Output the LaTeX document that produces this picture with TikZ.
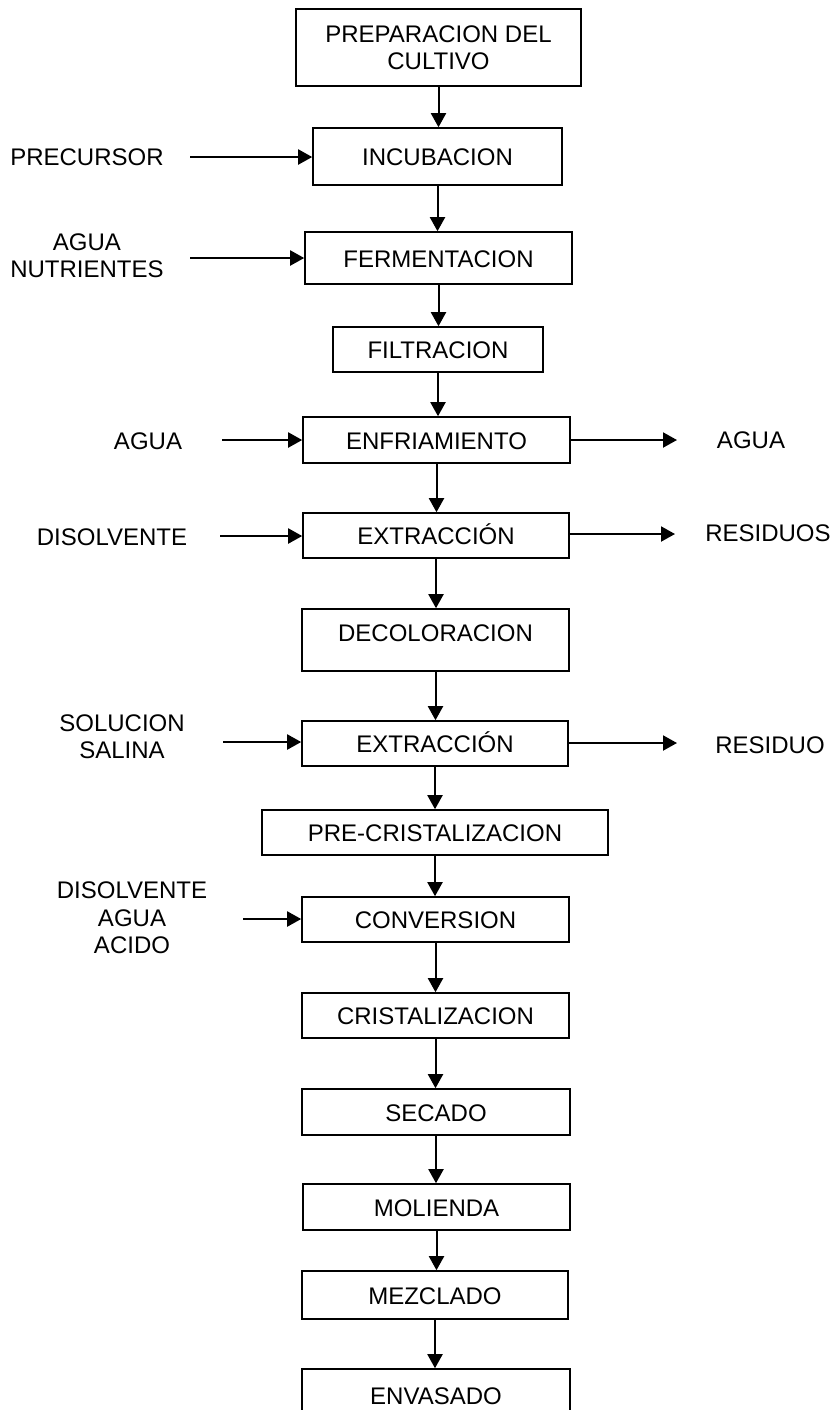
\documentclass[tikz,border=0pt]{standalone}
\usepackage{fontspec}
\setmainfont{Liberation Sans}
\usetikzlibrary{arrows.meta}
\begin{document}
\begin{tikzpicture}[x=0.5pt,y=-0.5pt,
  every node/.style={font=\fontsize{12}{13.75}\selectfont, inner sep=0pt, align=center},
  bx/.style 2 args={draw, line width=0.8pt, minimum width=#1*0.5pt, minimum height=#2*0.5pt},
  ts/.style={text height=9pt, text depth=0pt},
  arr/.style={line width=1pt, -{Triangle[length=7pt,width=7.5pt]}}
]
\useasboundingbox (0,0) rectangle (834,1410);
\clip (0,0) rectangle (834,1410);

% process boxes
\node[bx={285}{77}] (prep) at (438.5,47.5) {PREPARACION DEL\\CULTIVO};
\node[bx={249}{57}, ts] (incub) at (437.5,156.5) {INCUBACION};
\node[bx={267}{52}, ts] (ferm) at (438.5,258) {FERMENTACION};
\node[bx={210}{45}, ts] (filt) at (438,349.5) {FILTRACION};
\node[bx={267}{46}, ts] (enfr) at (436.5,440) {ENFRIAMIENTO};
\node[bx={266}{45}, ts] (extr1) at (436,535.5) {EXTRACCIÓN};
\node[bx={267}{62}, text height=9pt, text depth=7.4pt] (decol) at (435.5,640) {DECOLORACION};
\node[bx={266}{45}, ts] (extr2) at (435,743.5) {EXTRACCIÓN};
\node[bx={346}{45}, ts] (precr) at (435,832.5) {PRE-CRISTALIZACION};
\node[bx={267}{45}, ts] (conv) at (435.5,919.5) {CONVERSION};
\node[bx={267}{45}, ts] (crist) at (435.5,1015.5) {CRISTALIZACION};
\node[bx={268}{46}, ts] (sec) at (436,1112) {SECADO};
\node[bx={267}{46}, ts] (mol) at (436.5,1207) {MOLIENDA};
\node[bx={266}{48}, ts] (mez) at (435,1295) {MEZCLADO};
\node[bx={268}{52}, ts] (env) at (436,1395) {ENVASADO};

% main flow
\draw[arr] (prep.south) -- (prep.south |- incub.north);
\draw[arr] (incub.south) -- (incub.south |- ferm.north);
\draw[arr] (ferm.south) -- (ferm.south |- filt.north);
\draw[arr] (filt.south) -- (filt.south |- enfr.north);
\draw[arr] (enfr.south) -- (enfr.south |- extr1.north);
\draw[arr] (extr1.south) -- (extr1.south |- decol.north);
\draw[arr] (decol.south) -- (decol.south |- extr2.north);
\draw[arr] (extr2.south) -- (extr2.south |- precr.north);
\draw[arr] (precr.south) -- (precr.south |- conv.north);
\draw[arr] (conv.south) -- (conv.south |- crist.north);
\draw[arr] (crist.south) -- (crist.south |- sec.north);
\draw[arr] (sec.south) -- (sec.south |- mol.north);
\draw[arr] (mol.south) -- (mol.south |- mez.north);
\draw[arr] (mez.south) -- (mez.south |- env.north);

% input labels
\node (l1) at (87,157) {PRECURSOR};
\node (l2) at (87,255.5) {AGUA\\NUTRIENTES};
\node (l3) at (148,441) {AGUA};
\node (l4) at (112,537) {DISOLVENTE};
\node (l5) at (122,736.5) {SOLUCION\\SALINA};
\node (l6) at (132,918) {DISOLVENTE\\AGUA\\ACIDO};

% output labels
\node (r1) at (751,440) {AGUA};
\node (r2) at (768,533) {RESIDUOS};
\node (r3) at (770,745) {RESIDUO};

% input arrows
\coordinate (i1) at (190,157);
\coordinate (i2) at (190,258);
\coordinate (i3) at (222,440);
\coordinate (i4) at (220,536);
\coordinate (i5) at (223,742);
\coordinate (i6) at (243,919);
\draw[arr] (i1) -- (i1 -| incub.west);
\draw[arr] (i2) -- (i2 -| ferm.west);
\draw[arr] (i3) -- (i3 -| enfr.west);
\draw[arr] (i4) -- (i4 -| extr1.west);
\draw[arr] (i5) -- (i5 -| extr2.west);
\draw[arr] (i6) -- (i6 -| conv.west);

% output arrows
\coordinate (o1) at (677,440);
\coordinate (o2) at (675,534);
\coordinate (o3) at (677,743);
\draw[arr] (enfr.east |- o1) -- (o1);
\draw[arr] (extr1.east |- o2) -- (o2);
\draw[arr] (extr2.east |- o3) -- (o3);
\end{tikzpicture}
\end{document}
